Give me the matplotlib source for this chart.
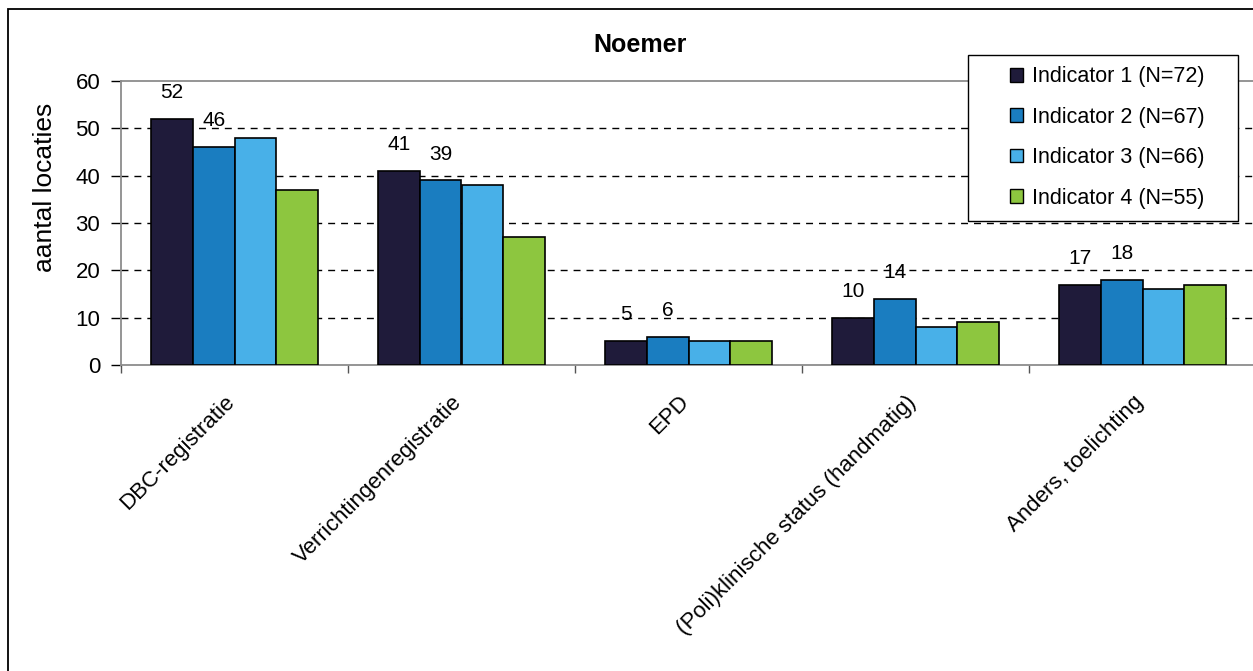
import matplotlib
matplotlib.use("Agg")
import matplotlib.pyplot as plt
import matplotlib.transforms as mtransforms
import numpy as np
from matplotlib.patches import Rectangle

categories = ["DBC-registratie", "Verrichtingenregistratie", "EPD",
              "(Poli)klinische status (handmatig)", "Anders, toelichting"]
series_names = ["Indicator 1 (N=72)", "Indicator 2 (N=67)",
                "Indicator 3 (N=66)", "Indicator 4 (N=55)"]
ind1 = [52, 41, 5, 10, 17]
ind2 = [46, 39, 6, 14, 18]
ind3 = [48, 38, 5, 8, 16]
ind4 = [37, 27, 5, 9, 17]
series = [ind1, ind2, ind3, ind4]
labelled = [True, True, False, False]
colors = ["#1F1B3A", "#1A7DC0", "#48B0E8", "#8DC63F"]

plt.rcParams['font.family'] = ['Liberation Sans', 'DejaVu Sans']

W, H = 1253, 671
fig = plt.figure(figsize=(W / 100, H / 100), dpi=100)
ax = fig.add_axes([121 / W, 1 - 365 / H, 1135 / W, 284 / H])

x = np.arange(len(categories))
bw = 0.183
for i, (vals, c) in enumerate(zip(series, colors)):
    pos = x + (i - 1.5) * bw
    ax.bar(pos, vals, width=bw, color=c, edgecolor="black",
           linewidth=1.2, label=series_names[i], zorder=3)
    if labelled[i]:
        for p, v in zip(pos, vals):
            ax.annotate(str(v), (p, v), xytext=(0, 19), textcoords="offset points",
                        ha="center", va="center", fontsize=15, zorder=4)

ax.set_xlim(-0.5, len(categories) - 0.5)
ax.set_ylim(0, 60)
ax.set_yticks(range(0, 61, 10))
ax.tick_params(axis="y", labelsize=16, length=7, width=1, color="black",
               direction="out", pad=8)
for yv in range(10, 60, 10):
    ax.axhline(yv, color="black", linestyle=(0, (5, 4.3)), linewidth=1.0, zorder=1)

ax.set_xticks(x)
ax.set_xticklabels(categories, rotation=45, ha="right", rotation_mode="anchor",
                   fontsize=16)
ax.tick_params(axis="x", length=0, pad=12)
off = mtransforms.ScaledTranslation(-10 / 100, -10 / 100, fig.dpi_scale_trans)
for lab in ax.get_xticklabels():
    lab.set_transform(lab.get_transform() + off)
ax.set_xticks(np.arange(-0.5, len(categories), 1), minor=True)
ax.tick_params(axis="x", which="minor", length=6, width=1, color="#555555")

for s in ax.spines.values():
    s.set_color("#8C8C8C")
    s.set_linewidth(1.3)

ax.set_ylabel("aantal locaties", fontsize=19)
ax.yaxis.set_label_coords(-0.056, (365 - 187) / 284)

fig.text(640 / W, 1 - 45 / H, "Noemer", ha="center", va="center",
         fontsize=18, fontweight="bold")

# legend frame (drawn inside the axes so the legend sits on top of it)
ax.add_patch(Rectangle((968 / W, 1 - 221 / H), 270 / W, 166 / H,
                       transform=fig.transFigure, facecolor="white",
                       edgecolor="black", linewidth=1.0, zorder=5, clip_on=False))

leg = ax.legend(loc="center left", bbox_to_anchor=(1010 / W, 1 - 137.5 / H),
                bbox_transform=fig.transFigure, fontsize=15.5, frameon=False,
                handlelength=0.6, handleheight=0.6, labelspacing=0.9,
                borderpad=0, borderaxespad=0, handletextpad=0.4)
leg.set_zorder(6)
for h in leg.legend_handles:
    h.set_linewidth(1.0)

fig.add_artist(Rectangle((8 / W, -0.1), 1.2, 1 - 9 / H + 0.1, transform=fig.transFigure,
                         fill=False, edgecolor="black", linewidth=1.3))

fig.savefig("out.png", dpi=100)
